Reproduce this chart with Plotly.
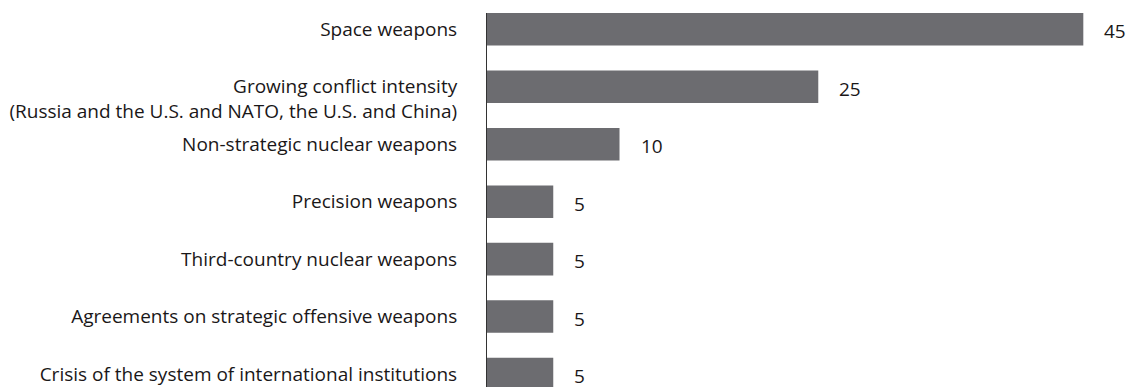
import plotly.graph_objects as go

categories = [
    "Space weapons",
    "Growing conflict intensity (Russia and the U.S. and NATO, the U.S. and China)",
    "Non-strategic nuclear weapons",
    "Precision weapons",
    "Third-country nuclear weapons",
    "Agreements on strategic offensive weapons",
    "Crisis of the system of international institutions",
]
tick_labels = [
    "Space weapons",
    "<br>Growing conflict intensity<br>(Russia and the U.S. and NATO, the U.S. and China)",
    "Non-strategic nuclear weapons",
    "Precision weapons",
    "Third-country nuclear weapons",
    "Agreements on strategic offensive weapons",
    "Crisis of the system of international institutions",
]
values = [45, 25, 10, 5, 5, 5, 5]

FONT = "Open Sans"
TEXT = "#1a1718"
BAR = "rgb(108,108,112)"

idx = list(range(len(categories)))

fig = go.Figure(
    go.Bar(
        x=values,
        y=idx,
        orientation="h",
        marker=dict(color=BAR, line=dict(width=0)),
        hovertext=categories,
    )
)

for i, v in zip(idx, values):
    fig.add_annotation(
        x=v, y=i, text=str(v), showarrow=False,
        xanchor="left", yanchor="middle", xshift=19, yshift=-2,
        font=dict(family=FONT, size=19, color=TEXT),
    )

fig.update_layout(
    width=1133, height=387,
    margin=dict(l=487, r=0, t=13, b=0),
    paper_bgcolor="white", plot_bgcolor="white",
    bargap=0.434,
    showlegend=False,
    font=dict(family=FONT, size=19, color=TEXT),
)
fig.update_xaxes(
    range=[0, 48.75], visible=False, showgrid=False, zeroline=False,
)
fig.update_yaxes(
    range=[6.225, -0.283], tickmode="array", tickvals=idx, ticktext=tick_labels,
    showgrid=False, zeroline=False, showline=True, linecolor="#333", linewidth=1,
    ticks="", ticklabelstandoff=25, automargin=False,
    tickfont=dict(family=FONT, size=19, color=TEXT),
)

fig.write_html("out.html")
